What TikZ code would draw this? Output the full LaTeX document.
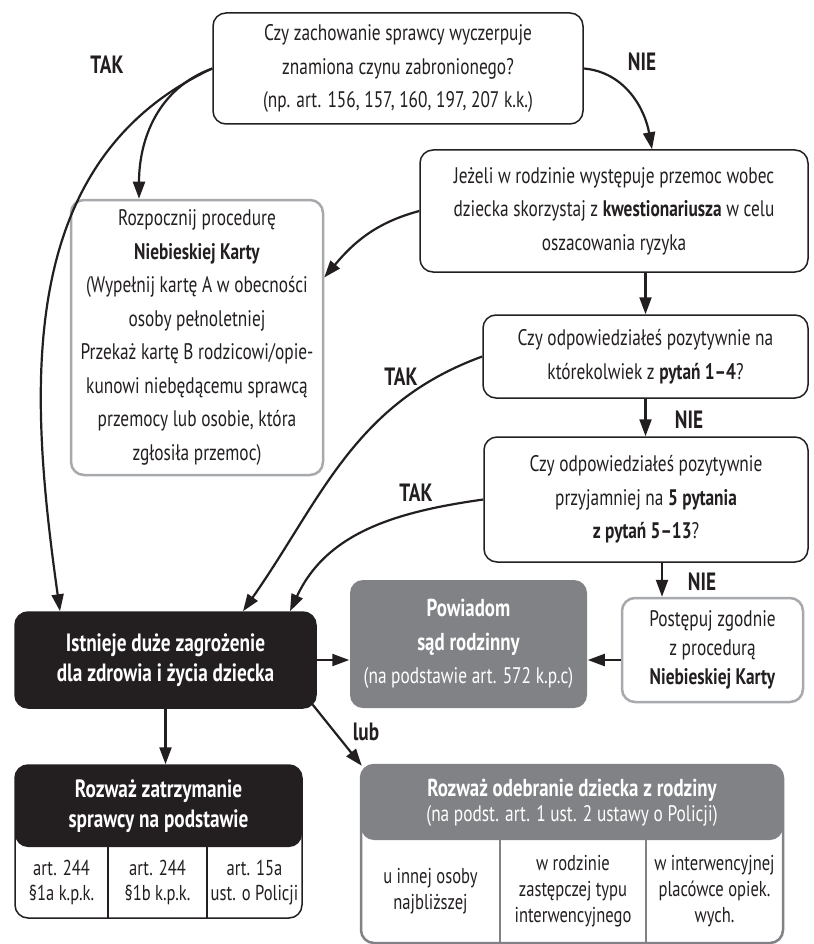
\documentclass[tikz,border=0pt]{standalone}
\usepackage{fontspec}
\setmainfont{PT Sans}[FakeStretch=0.77]
\usetikzlibrary{arrows.meta}
\definecolor{boxblack}{HTML}{231F20}
\definecolor{boxgray}{HTML}{808285}
\definecolor{linegray}{HTML}{A7A9AC}

\begin{document}
\begin{tikzpicture}[x=1pt,y=-1pt,>={Triangle[length=17pt,width=12pt]},
    main node/.style={draw=boxblack,rounded corners=13pt,line width=1.5pt,align=center,inner sep=0pt,text=boxblack,font=\fontsize{22.5}{33.5}\selectfont},
    gray node/.style={main node,draw=linegray,line width=2.5pt},
    dark node/.style={main node,fill=boxblack,text=white,font=\bfseries\fontsize{25}{30.5}\selectfont},
    answer/.style={font=\bfseries\fontsize{25}{27}\selectfont,text=boxblack},
    arrow/.style={->,draw=boxblack,line width=2.2pt},
    cell/.style={inner sep=0pt,align=center,text=boxblack,minimum height=71pt,font=\fontsize{21.5}{25}\selectfont}]

    \path[use as bounding box,fill=white] (0,0) rectangle (813,944);

    \node[main node,minimum width=370pt,minimum height=111pt] (1) at (398,68.5) {Czy zachowanie sprawcy wyczerpuje\\znamiona czynu zabronionego?\\(np. art. 156, 157, 160, 197, 207 k.k.)};
    \node[main node,minimum width=388pt,minimum height=122pt] (2) at (614,211) {Jeżeli w rodzinie występuje przemoc wobec\\dziecka skorzystaj z \textbf{kwestionariusza} w celu\\oszacowania ryzyka};
    \node[gray node,minimum width=252pt,minimum height=275pt] (3) at (197,337.5) {Rozpocznij procedurę\\\textbf{Niebieskiej Karty}\\(Wypełnij kartę A w obecności\\osoby pełnoletniej\\Przekaż kartę B rodzicowi/opie-\\kunowi niebędącemu sprawcą\\przemocy lub osobie, która\\zgłosiła przemoc)};
    \node[main node,minimum width=325pt,minimum height=83pt] (4) at (645.5,356.5) {Czy odpowiedziałeś pozytywnie na\\którekolwiek z \textbf{pytań 1–4}?};
    \node[main node,minimum width=324pt,minimum height=125pt] (5) at (646,499.5) {Czy odpowiedziałeś pozytywnie\\przyjamniej na \textbf{5 pytania}\\\textbf{z pytań 5–13}?};
    \node[dark node,minimum width=301pt,minimum height=96pt] (6) at (165.5,660) {Istnieje duże zagrożenie\\dla zdrowia i życia dziecka};
    \node[main node,draw=none,fill=boxgray,text=white,minimum width=237pt,minimum height=128pt] (7) at (468.5,644) {{\fontsize{24.5}{33.5}\selectfont\bfseries Powiadom}\\{\fontsize{24.5}{33.5}\selectfont\bfseries sąd rodzinny}\\(na podstawie art. 572 k.p.c)};
    \node[gray node,minimum width=181pt,minimum height=104pt,font=\fontsize{22.5}{29}\selectfont] (8) at (712.5,650) {Postępuj zgodnie\\z procedurą\\\textbf{Niebieskiej Karty}};

    \node[main node,fill=white,minimum width=287pt,minimum height=153pt,path picture={\fill[boxblack] (path picture bounding box.north west) rectangle ([yshift=-82pt]path picture bounding box.north east);}] (9) at (158.5,841.5) {};
    \node[text=white,align=center,font=\bfseries\fontsize{25}{30}\selectfont] (9-0) at (158.5,806) {Rozważ zatrzymanie\\sprawcy na podstawie};
    \node[cell,minimum width=93pt] (9-1) at (61.5,882.5) {art. 244\\§1a k.p.k.};
    \node[cell,minimum width=99pt] (9-2) at (157.5,882.5) {art. 244\\§1b k.p.k.};
    \node[cell,minimum width=95pt] (9-3) at (254.5,882.5) {art. 15a\\ust. o Policji};
    \draw[line width=1.5pt,boxblack] (9-1.north east) -- (9-1.south east) (9-2.north east) -- (9-2.south east);

    \node[main node,draw=boxgray,line width=2.5pt,fill=white,minimum width=422pt,minimum height=178pt,path picture={\fill[boxgray] (path picture bounding box.north west) rectangle ([yshift=-75pt]path picture bounding box.north east);}] (10) at (572,854) {};
    \node[text=white,align=center,font=\fontsize{22.5}{25}\selectfont] (10-0) at (572,803) {{\fontsize{24.5}{25}\selectfont\bfseries Rozważ odebranie dziecka z rodziny}\\(na podst. art. 1 ust. 2 ustawy o Policji)};
    \node[cell,minimum width=139pt,minimum height=103pt,font=\fontsize{21.5}{26}\selectfont] (10-1) at (430.5,891.5) {u innej osoby\\najbliższej};
    \node[cell,minimum width=146pt,minimum height=103pt,font=\fontsize{21.5}{26}\selectfont] (10-2) at (573,891.5) {w rodzinie\\zastępczej typu\\interwencyjnego};
    \node[cell,minimum width=137pt,minimum height=103pt,font=\fontsize{21.5}{26}\selectfont] (10-3) at (714.5,891.5) {w interwencyjnej\\placówce opiek.\\wych.};
    \draw[line width=2.5pt,boxgray] (10-1.north east) -- (10-1.south east) (10-2.north east) -- (10-2.south east);

    \draw[arrow] (1.east) to[out=-5,in=100] ([xshift=38pt]2.north);
    \draw[arrow] (1.west) to[out=200,in=90] ([xshift=-58pt]3.north);
    \draw[arrow] (1.west) to[out=205,in=98] ([xshift=-105.5pt]6.north);
    \draw[arrow] (2.west) to[out=195,in=50] ([yshift=60pt]3.east);
    \draw[arrow] (2.south -| 4.north) -- (4.north);
    \draw[arrow] (4.south) -- (4.south |- 5.north);
    \draw[arrow] (4.west) to[out=200,in=55] ([xshift=77.5pt]6.north);
    \draw[arrow] (5.west) to[out=188,in=65] ([xshift=124.5pt]6.north);
    \draw[arrow] ([xshift=-50.5pt]8.north |- 5.south) -- ([xshift=-50.5pt]8.north);
    \draw[arrow] ([yshift=-10pt]8.west) -- ([yshift=-10pt]8.west -| 7.east);
    \draw[arrow] (6.east) -- (6.east -| 7.west);
    \draw[arrow] (6.south) -- (6.south |- 9.north);
    \draw[arrow] ([shift={(-4pt,4pt)}]6.south east) -- ([shift={(2pt,-2pt)}]10.north west);

    \node[answer] (t1) at (107,65) {TAK};
    \node[answer] (n1) at (642,62) {NIE};
    \node[answer] (t2) at (401,377) {TAK};
    \node[answer] (n2) at (689,420) {NIE};
    \node[answer] (t3) at (416,493) {TAK};
    \node[answer] (n3) at (702,582) {NIE};
    \node[answer] (l1) at (366,732) {lub};
\end{tikzpicture}
\end{document}
